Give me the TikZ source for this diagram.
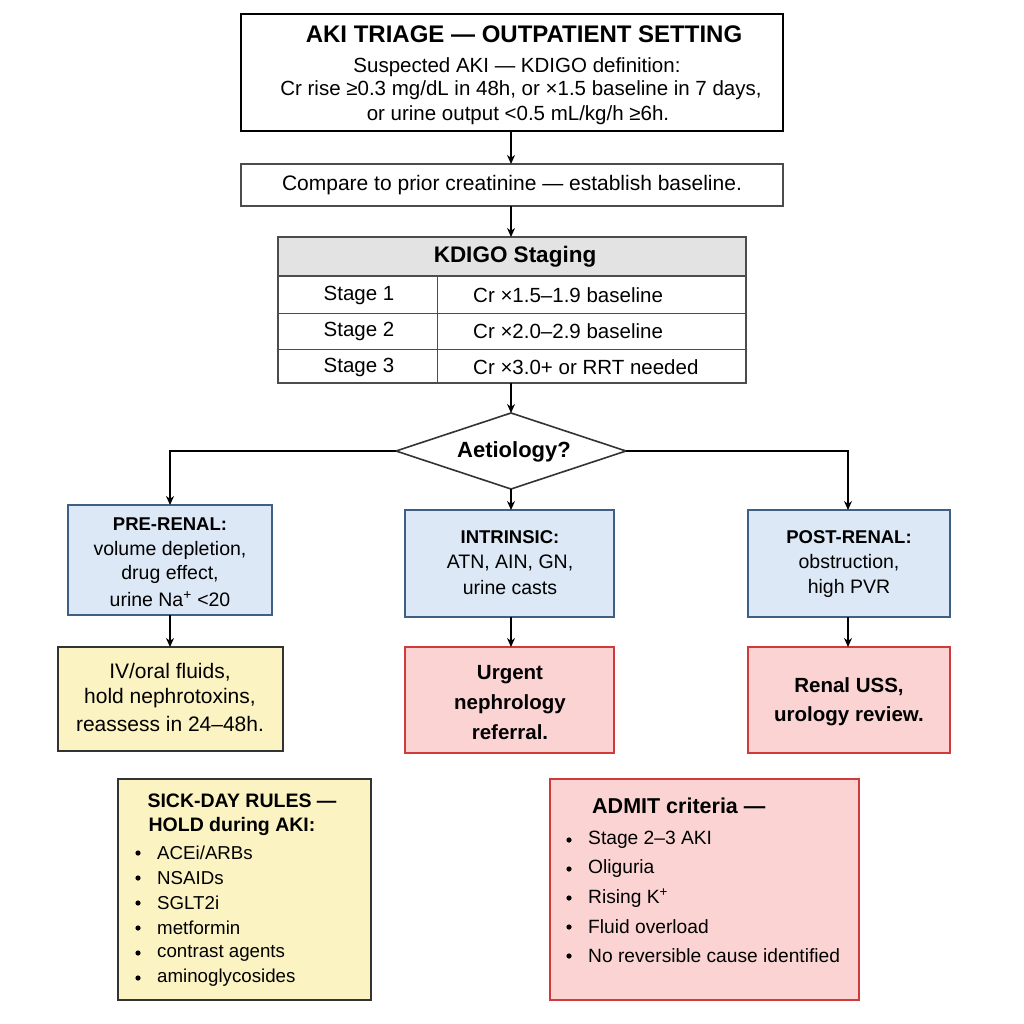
\documentclass[tikz,border=0pt]{standalone}
\usepackage{fontspec}
\setmainfont{Liberation Sans}
\usetikzlibrary{shapes.geometric,arrows.meta}
\definecolor{bfill}{HTML}{DCE8F6}\definecolor{bline}{HTML}{3F5F85}
\definecolor{rfill}{HTML}{FBD3D3}\definecolor{rline}{HTML}{D03A3A}
\definecolor{yfill}{HTML}{FCF3C2}\definecolor{yline}{HTML}{333333}
\definecolor{gfill}{HTML}{E3E3E3}
\newcommand{\fs}[1]{\fontsize{#1}{#1}\selectfont}
\begin{document}
\begin{tikzpicture}[x=1pt,y=-1pt,
 box/.style={draw=#1,line width=1.6pt},
 t/.style={font=\fs{20.5},inner sep=0pt},
 tb/.style={font=\fs{19}\bfseries,inner sep=0pt},
 arr/.style={-{Stealth[length=9pt,width=8pt]},line width=1.5pt}]
\useasboundingbox (0,0) rectangle (1024,1024);
% top
\draw[box=black,fill=white] (241,14) rectangle (783,131);
\node[tb,font=\fs{24}\bfseries] (title) at (524,34) {AKI TRIAGE — OUTPATIENT SETTING};
\node[t] (l1) at (517,67) {Suspected AKI — KDIGO definition:};
\node[t] (l2) at (521,90) {Cr rise ≥0.3 mg/dL in 48h, or ×1.5 baseline in 7 days,};
\node[t] (l3) at (518,115) {or urine output <0.5 mL/kg/h ≥6h.};
\coordinate (topb) at (511,131);
\draw[box=black!70,line width=1.2pt] (241,164) rectangle (783,206);
\node[t,font=\fs{21}] (cmp) at (512,185) {Compare to prior creatinine — establish baseline.};
\coordinate (cmpt) at (511,164); \coordinate (cmpb) at (511,206);
\draw[arr] (topb) -- (cmpt);
% table
\draw[box=black!70,line width=1.2pt,fill=gfill] (278,237) rectangle (746,276);
\draw[box=black!70,line width=1.2pt,fill=white] (278,276) rectangle (746,383);
\draw[black!70,line width=1pt] (278,313) -- (746,313) (278,349) -- (746,349) (437,276) -- (437,383);
\node[tb,font=\fs{22.5}\bfseries] (kd) at (515,257) {KDIGO Staging};
\node[t] (s1) at (359,295) {Stage 1}; \node[t,anchor=west] (c1) at (473,295) {Cr ×1.5–1.9 baseline};
\node[t] (s2) at (359,331) {Stage 2}; \node[t,anchor=west] (c2) at (473,331) {Cr ×2.0–2.9 baseline};
\node[t] (s3) at (359,367) {Stage 3}; \node[t,anchor=west] (c3) at (473,367) {Cr ×3.0+ or RRT needed};
\coordinate (tabt) at (511,237); \coordinate (tabb) at (511,383);
\draw[arr] (cmpb) -- (tabt);
% diamond
\draw[box=black!80,fill=white] (396,451) -- (511,413) -- (626,451) -- (511,489) -- cycle;
\node[tb,font=\fs{22}\bfseries] (aet) at (514,452) {Aetiology?};
\coordinate (dt) at (511,413);\coordinate (dl) at (396,451);\coordinate (dr) at (626,451);\coordinate (db) at (511,489);
\draw[arr] (tabb) -- (dt);
% level boxes
\draw[box=bline,fill=bfill] (68,505) rectangle (272,615);
\node[tb,font=\fs{18.5}\bfseries] (pre) at (170,524) {PRE-RENAL:};
\node[t,font=\fs{19.5}] at (170,550) {volume depletion,};
\node[t,font=\fs{19.5}] at (170,574) {drug effect,};
\node[t,font=\fs{19.5}] at (170,599) {urine Na\textsuperscript{+} <20};
\draw[box=bline,fill=bfill] (405,510) rectangle (614,617);
\node[tb,font=\fs{18.5}\bfseries] (intr) at (510,537) {INTRINSIC:};
\node[t,font=\fs{19.5}] at (510,563) {ATN, AIN, GN,};
\node[t,font=\fs{19.5}] at (510,588) {urine casts};
\draw[box=bline,fill=bfill] (748,510) rectangle (950,617);
\node[tb,font=\fs{18.5}\bfseries] (post) at (849,537) {POST-RENAL:};
\node[t,font=\fs{19.5}] at (849,563) {obstruction,};
\node[t,font=\fs{19.5}] at (849,588) {high PVR};
\coordinate (pret) at (170,505);\coordinate (intt) at (511,510);\coordinate (post_t) at (848,510);
\draw[arr] (dl) -| (pret);
\draw[arr] (dr) -| (post_t);
\draw[arr] (db) -- (intt);
% action boxes
\draw[box=yline,line width=1.2pt,fill=yfill] (58,647) rectangle (283,751);
\node[t,font=\fs{21}] at (170,672) {IV/oral fluids,};
\node[t,font=\fs{21}] at (170,698) {hold nephrotoxins,};
\node[t,font=\fs{21}] at (170,724) {reassess in 24–48h.};
\draw[box=rline,fill=rfill] (405,647) rectangle (614,753);
\node[tb,font=\fs{20.5}\bfseries] at (510,675) {Urgent};
\node[tb,font=\fs{20.5}\bfseries] at (510,704) {nephrology};
\node[tb,font=\fs{20.5}\bfseries] at (510,732) {referral.};
\draw[box=rline,fill=rfill] (748,647) rectangle (950,753);
\node[tb,font=\fs{20.5}\bfseries] at (849,687) {Renal USS,};
\node[tb,font=\fs{20.5}\bfseries] at (849,716) {urology review.};
\draw[arr] (170,615) -- (170,647);
\draw[arr] (511,617) -- (511,647);
\draw[arr] (848,617) -- (848,647);
% sick day
\draw[box=yline,line width=1.2pt,fill=yfill] (118,779) rectangle (371,1000);
\node[tb,font=\fs{19.5}\bfseries] at (242,801) {SICK-DAY RULES —};
\node[tb,font=\fs{19.5}\bfseries] at (232,826) {HOLD during AKI:};
\foreach \y/\s in {853/{ACEi/ARBs},878/NSAIDs,903/SGLT2i,928/metformin,953/contrast agents,978/aminoglycosides}{
 \fill (138,\y) circle (2.6pt);
 \node[t,font=\fs{18.7},anchor=west] at (157,\y) {\s};}
% admit
\draw[box=rline,fill=rfill] (550,779) rectangle (859,1000);
\node[tb,font=\fs{21.5}\bfseries,anchor=west] at (592,806) {ADMIT criteria —};
\foreach \y/\s in {840/Stage 2–3 AKI,869/Oliguria,898/Rising K\textsuperscript{+},927/Fluid overload,956/No reversible cause identified}{
 \fill (569,\y) circle (2.6pt);
 \node[t,font=\fs{19.2},anchor=west] at (588,\y) {\s};}
\end{tikzpicture}
\end{document}
